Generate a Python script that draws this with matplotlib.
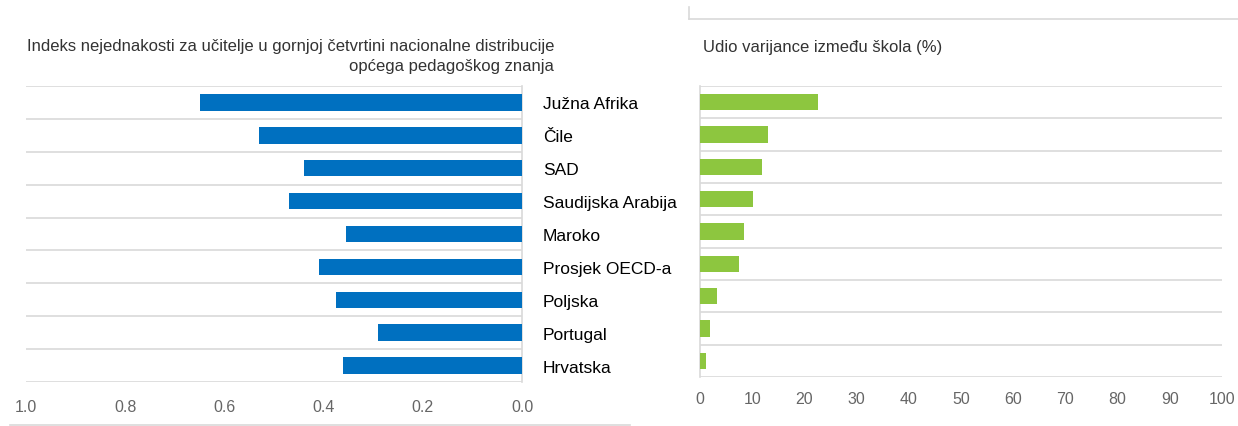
import matplotlib.pyplot as plt
from matplotlib.lines import Line2D
from matplotlib import font_manager

# Data
countries = ["Južna Afrika", "Čile", "SAD", "Saudijska Arabija", "Maroko",
             "Prosjek OECD-a", "Poljska", "Portugal", "Hrvatska"]
inequality_index = [0.65, 0.53, 0.44, 0.47, 0.355, 0.41, 0.375, 0.29, 0.36]
between_school_var = [22.7, 13.0, 11.9, 10.2, 8.4, 7.5, 3.3, 1.9, 1.2]

left_ticks = [1.0, 0.8, 0.6, 0.4, 0.2, 0.0]
right_ticks = list(range(0, 101, 10))

names = {f.name for f in font_manager.fontManager.ttflist}
tick_font = "Liberation Sans Narrow" if "Liberation Sans Narrow" in names else "Liberation Sans"
plt.rcParams['font.family'] = ['Liberation Sans', 'DejaVu Sans']

BLUE = "#0070C0"
GREEN = "#8DC63F"
GRID = "#D9D9D9"
TICK = "#666666"
TITLE = "#333333"

fig = plt.figure(figsize=(12.38, 4.27), dpi=100)
ax1 = fig.add_axes([26/1238, 1-383/427, 496/1238, 296/427])
ax2 = fig.add_axes([700/1238, 1-378/427, 522/1238, 291/427])

y = list(range(len(countries)))
boundaries = [i - 0.5 for i in range(len(countries) + 1)]

# left panel
ax1.barh(y, inequality_index, height=0.5, color=BLUE, zorder=3)
ax1.set_xlim(1.0, 0.0)
ax1.set_ylim(len(countries) - 0.5, -0.5)
for b in boundaries:
    ax1.axhline(b, color=GRID, lw=1.2, zorder=1)
for s in ["top", "left", "bottom"]:
    ax1.spines[s].set_visible(False)
ax1.spines["right"].set_color(GRID)
ax1.spines["right"].set_linewidth(1.2)
ax1.set_xticks(left_ticks)
ax1.set_xticklabels([f"{t:.1f}" for t in left_ticks], fontsize=11.5,
                    color=TICK, family=tick_font)
ax1.tick_params(axis="x", length=0, pad=12)
ax1.yaxis.tick_right()
ax1.set_yticks(y)
ax1.set_yticklabels(countries, fontsize=12.5, color="black")
ax1.tick_params(axis="y", length=0, pad=15)
ax1.text(-0.065, -0.9, "Indeks nejednakosti za učitelje u gornjoj četvrtini nacionalne distribucije\nopćega pedagoškog znanja",
         ha="right", va="bottom", fontsize=12, color=TITLE, linespacing=1.4)

# right panel
ax2.barh(y, between_school_var, height=0.5, color=GREEN, zorder=3)
ax2.set_xlim(0, 100)
ax2.set_ylim(len(countries) - 0.5, -0.5)
for b in boundaries:
    ax2.axhline(b, color=GRID, lw=1.2, zorder=1)
for s in ["top", "right", "bottom"]:
    ax2.spines[s].set_visible(False)
ax2.spines["left"].set_color(GRID)
ax2.spines["left"].set_linewidth(1.2)
ax2.set_xticks(right_ticks)
ax2.set_xticklabels([str(t) for t in right_ticks], fontsize=11.5,
                    color=TICK, family=tick_font)
ax2.tick_params(axis="x", length=0, pad=10)
ax2.set_yticks([])
ax2.text(0.5, -1.5, "Udio varijance između škola (%)", ha="left", va="bottom",
         fontsize=12, color=TITLE)

# frame pieces around the panels
fig.add_artist(Line2D([10/1238, 630/1238], [1-426/427, 1-426/427], color=GRID, lw=1.2))
fig.add_artist(Line2D([689/1238, 1238/1238], [1-20/427, 1-20/427], color=GRID, lw=1.2))
fig.add_artist(Line2D([689/1238, 689/1238], [1-20/427, 1-8/427], color=GRID, lw=1.2))

fig.savefig("out.png", dpi=100)
